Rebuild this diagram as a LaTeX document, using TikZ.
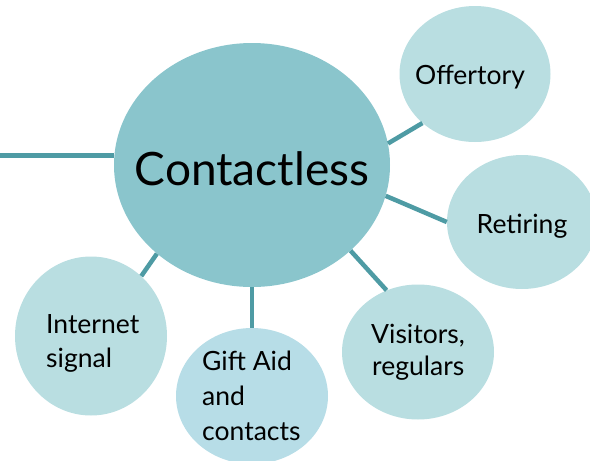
\documentclass[tikz,border=0pt]{standalone}
\usepackage{fontspec}
\setmainfont{Lato}
\usetikzlibrary{shapes.geometric}
\definecolor{mainfill}{HTML}{8AC5CC}
\definecolor{subfill}{HTML}{B9DEE1}
\definecolor{giftfill}{HTML}{B7DDE7}
\definecolor{linkcol}{HTML}{4E9BA4}
\tikzset{
  bubble/.style={ellipse, fill=subfill, inner sep=0pt},
  lbl/.style={font=\fontsize{26.5}{35}\selectfont, inner sep=0pt, text=black, anchor=base west},
  link/.style={draw=linkcol, line width=4.5pt}
}
\begin{document}
\begin{tikzpicture}[x=1pt,y=-1pt]
\useasboundingbox (0,0) rectangle (590,461);
\node[ellipse, fill=mainfill, minimum width=276pt, minimum height=244pt, inner sep=0pt] (c) at (252,165) {};
\node[font=\fontsize{46}{50}\selectfont, inner sep=0pt, anchor=base] (ctext) at (252,185) {Contactless};
\node[bubble, minimum width=151pt, minimum height=136pt] (off) at (475,74) {};
\node[bubble, minimum width=150pt, minimum height=134pt] (ret) at (522,222) {};
\node[bubble, minimum width=152pt, minimum height=135pt] (vis) at (418,352) {};
\node[bubble, fill=giftfill, minimum width=152pt, minimum height=136pt] (gift) at (252,396) {};
\node[bubble, minimum width=152pt, minimum height=159pt] (net) at (91,336) {};
\node[lbl, anchor=base] (offtext) at (470,84) {Offertory};
\node[lbl, anchor=base] (rettext) at (522,233) {Retiring};
\node[lbl] (vis1) at (371,343) {Visitors,};
\node[lbl] (vis2) at (372,375) {regulars};
\node[lbl] (gift1) at (202,370) {Gift Aid};
\node[lbl] (gift2) at (202,405) {and};
\node[lbl] (gift3) at (202,440) {contacts};
\node[lbl] (net1) at (46,333) {Internet};
\node[lbl] (net2) at (46,367) {signal};
\coordinate (lstart) at (c.176);
\coordinate (lend) at (lstart -| 0,0);
\draw[link] (lend) -- (lstart);
\draw[link] (c.9.4) -- (off.223);
\draw[link] (c.-13.3) -- (ret.180.8);
\draw[link] (c.-41) -- (vis.117);
\draw[link] (c.-90) -- (gift.90);
\draw[link] (c.223) -- (net.50);
\end{tikzpicture}
\end{document}
